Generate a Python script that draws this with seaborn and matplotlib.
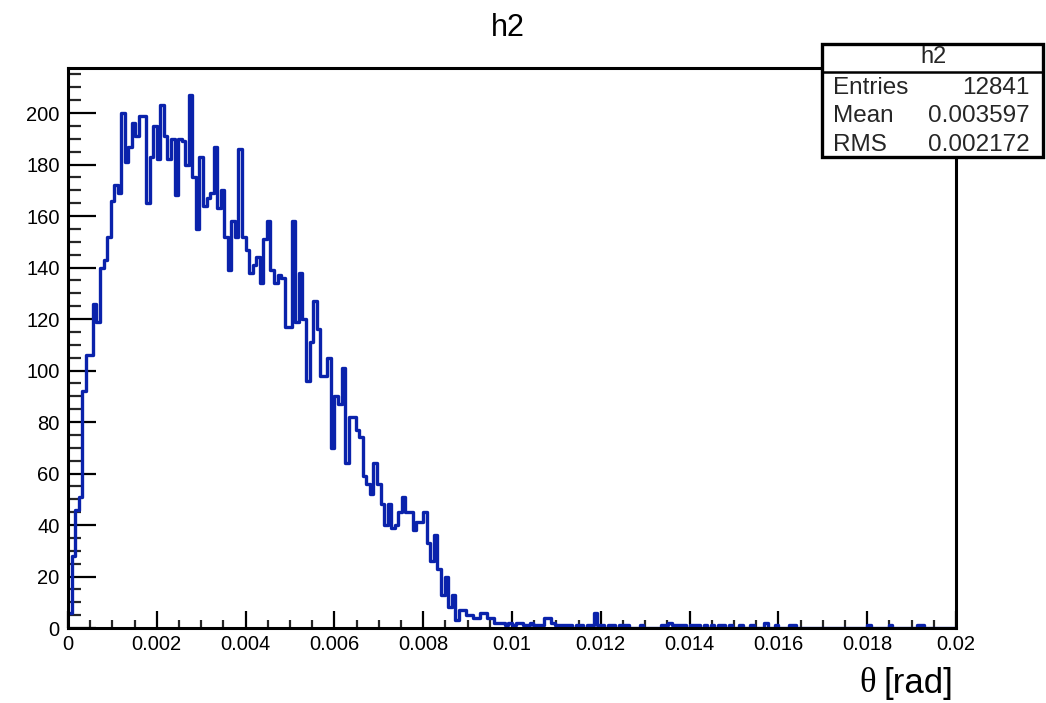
import numpy as np
import pandas as pd
import matplotlib
matplotlib.use("Agg")
import matplotlib.pyplot as plt
import seaborn as sns
from matplotlib.patches import Rectangle
from matplotlib.lines import Line2D
from matplotlib.ticker import MultipleLocator, FixedLocator

# ---------------- data ----------------
hist_title = "h2"
x_symbol = "θ"
x_unit = "[rad]"
x_range = (0.0, 0.02)

counts = [
    6, 28, 46, 51, 92, 106, 106, 126, 119, 140,
    143, 152, 166, 172, 169, 200, 181, 187, 196, 191,
    199, 199, 165, 183, 195, 182, 203, 191, 182, 190,
    168, 190, 189, 180, 207, 175, 155, 183, 164, 167,
    169, 187, 163, 170, 152, 139, 158, 152, 186, 152,
    147, 138, 141, 144, 134, 151, 158, 139, 134, 137,
    136, 117, 117, 158, 119, 138, 120, 96, 111, 127,
    116, 98, 98, 105, 70, 90, 87, 101, 64, 82,
    82, 77, 74, 59, 56, 52, 64, 56, 48, 40,
    48, 39, 40, 45, 51, 45, 45, 38, 41, 41,
    45, 33, 26, 36, 23, 13, 20, 8, 13, 3,
    7, 7, 5, 5, 4, 4, 6, 6, 4, 4,
    2, 2, 2, 1, 2, 1, 2, 2, 1, 1,
    2, 1, 1, 1, 4, 4, 2, 1, 1, 1,
    1, 1, 0, 1, 1, 0, 1, 1, 6, 1,
    1, 0, 1, 1, 0, 1, 1, 1, 0, 0,
    0, 1, 0, 0, 0, 0, 0, 1, 1, 2,
    1, 1, 1, 1, 0, 1, 1, 1, 0, 1,
    0, 1, 0, 1, 1, 0, 1, 0, 0, 1,
    0, 0, 1, 0, 0, 0, 2, 0, 0, 1,
    0, 0, 0, 1, 1, 0, 0, 0, 0, 0,
    0, 0, 0, 0, 0, 0, 0, 0, 0, 0,
    0, 0, 0, 0, 0, 1, 0, 0, 0, 0,
    0, 1, 0, 0, 0, 0, 0, 0, 0, 1,
    1, 0, 0, 0, 0, 0, 0, 0, 0, 0,
]

x_ticks = [0.0, 0.002, 0.004, 0.006, 0.008, 0.010, 0.012, 0.014, 0.016, 0.018, 0.020]
x_tick_labels = ["0", "0.002", "0.004", "0.006", "0.008", "0.01",
                 "0.012", "0.014", "0.016", "0.018", "0.02"]
y_ticks = [0, 20, 40, 60, 80, 100, 120, 140, 160, 180, 200]
y_max = 217.5

stats_labels = ["Entries", "Mean", "RMS"]
stats_values = ["12841", "0.003597", "0.002172"]

line_color = "#0a22ab"

# ---------------- figure ----------------
sns.set_theme(style="ticks")
plt.rcParams["font.family"] = ["Liberation Sans", "DejaVu Sans"]

W, H = 1046, 703
fig = plt.figure(figsize=(W / 100, H / 100), dpi=100)
fig.patch.set_facecolor("white")

def fx(px):
    return px / W

def fy(py):
    return 1 - py / H

ax = fig.add_axes([fx(68), fy(628), fx(956) - fx(68), fy(68) - fy(628)])

nbins = len(counts)
bin_w = (x_range[1] - x_range[0]) / nbins
centers = x_range[0] + bin_w * (np.arange(nbins) + 0.5)
df = pd.DataFrame({"theta": centers, "n": counts})
sns.histplot(data=df, x="theta", weights="n", bins=nbins, binrange=x_range,
             element="step", fill=False, color=line_color, linewidth=2.4, ax=ax)

ax.set_xlim(*x_range)
ax.set_ylim(0, y_max)
ax.set_xlabel("")
ax.set_ylabel("")

ax.xaxis.set_major_locator(FixedLocator(x_ticks))
ax.set_xticklabels(x_tick_labels)
ax.xaxis.set_minor_locator(MultipleLocator(0.0005))
ax.yaxis.set_major_locator(FixedLocator(y_ticks))
ax.set_yticklabels([str(v) for v in y_ticks])
ax.yaxis.set_minor_locator(MultipleLocator(5))

ax.tick_params(axis="x", which="major", direction="in", length=12, width=1.6,
               labelsize=14.5, pad=5, colors="black")
ax.tick_params(axis="x", which="minor", direction="in", length=5.5, width=1.6)
ax.tick_params(axis="y", which="major", direction="in", length=20, width=1.6,
               labelsize=14.5, pad=6, colors="black")
ax.tick_params(axis="y", which="minor", direction="in", length=9.5, width=1.6)
ax.tick_params(top=False, right=False)

for sp in ax.spines.values():
    sp.set_visible(True)
    sp.set_color("black")
    sp.set_linewidth(2.2)
ax.set_facecolor("white")
ax.grid(False)

# title
fig.text(fx(508), fy(28), hist_title, ha="center", va="center", fontsize=22, color="black")
# x label: serif theta + sans unit
fig.text(fx(953), fy(683), x_unit, ha="right", va="center", fontsize=25, color="black")
fig.text(fx(876), fy(684), x_symbol, ha="right", va="center", fontsize=25, color="black",
         family=["Liberation Serif", "DejaVu Serif"])

# stats box
bx0, by0, bx1, by1 = 822, 44, 1043, 157
box = Rectangle((fx(bx0), fy(by1)), fx(bx1) - fx(bx0), fy(by0) - fy(by1),
                transform=fig.transFigure, facecolor="white", edgecolor="black",
                linewidth=2.4, zorder=10)
fig.add_artist(box)
fig.add_artist(Line2D([fx(bx0), fx(bx1)], [fy(72), fy(72)], transform=fig.transFigure,
                      color="black", linewidth=1.8, zorder=11))
fig.text(fx(933), fy(57), hist_title, ha="center", va="center", fontsize=17, zorder=12)
row_y = [88, 116, 145]
for lab, val, yy in zip(stats_labels, stats_values, row_y):
    fig.text(fx(833), fy(yy), lab, ha="left", va="center", fontsize=17.5, zorder=12)
    fig.text(fx(1030), fy(yy), val, ha="right", va="center", fontsize=17.5, zorder=12)

fig.savefig("out.png", dpi=100, facecolor="white")
